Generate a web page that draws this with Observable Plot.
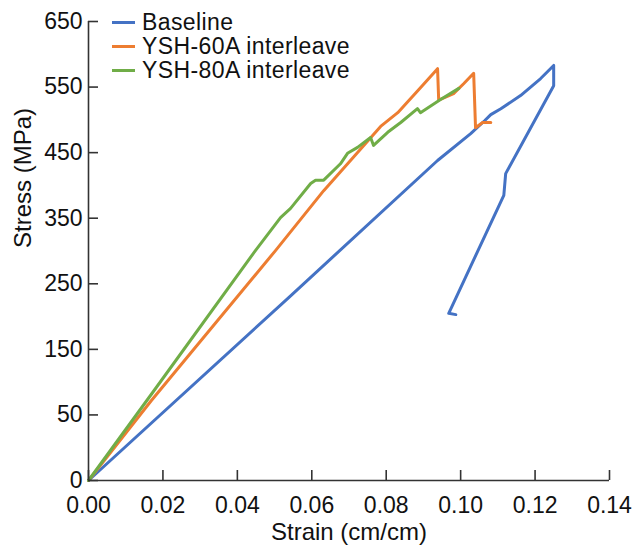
<!DOCTYPE html>
<html><head><meta charset="utf-8">
<script src="https://cdn.jsdelivr.net/npm/d3@7"></script>
<script src="https://cdn.jsdelivr.net/npm/@observablehq/plot@0.6"></script>
<style>
body{margin:0;background:#fff;}
#wrap{position:relative;width:634px;height:547px;font-family:"Liberation Sans",Arial,sans-serif;}
#legend{position:absolute;left:112px;top:10px;font-size:23px;letter-spacing:0.4px;line-height:24px;color:#111;}
.row{display:flex;align-items:center;height:24px;}
.sw{width:23px;height:3px;margin-right:7px;}
</style></head><body><div id="wrap"><div id="legend"></div></div>
<script>
const series = ["Baseline", "YSH-60A interleave", "YSH-80A interleave"];
const colors = ["#4472C4", "#ED7D31", "#70AD47"];

const baselineStrain = [0, 0.0538, 0.0938, 0.1027, 0.1065, 0.1081, 0.1108, 0.1161, 0.1215, 0.125, 0.125, 0.1121, 0.1116, 0.0968, 0.0987];
const baselineStress = [-50, 229, 438, 479, 499, 508, 517, 537, 563, 583, 552, 418, 385, 205, 203];

const ysh60Strain = [0, 0.0169, 0.0503, 0.0632, 0.0704, 0.0785, 0.0831, 0.0892, 0.0938, 0.0941, 0.0981, 0.1008, 0.1035, 0.104, 0.1059, 0.1081];
const ysh60Stress = [-50, 72, 301, 392, 438, 490, 511, 549, 578, 530, 540, 555, 571, 488, 496, 496];

const ysh80Strain = [0, 0.0167, 0.0449, 0.0516, 0.0543, 0.0597, 0.061, 0.0632, 0.0677, 0.0696, 0.0723, 0.0758, 0.0766, 0.0804, 0.0839, 0.0884, 0.0892, 0.0946, 0.0995];
const ysh80Stress = [-50, 80, 301, 351, 365, 403, 408, 408, 433, 449, 458, 473, 461, 481, 496, 517, 511, 531, 548];

const xTicks = [0, 0.02, 0.04, 0.06, 0.08, 0.10, 0.12, 0.14];
const yTicks = [-50, 50, 150, 250, 350, 450, 550, 650];
const yTickLabels = ["0", "50", "150", "250", "350", "450", "550", "650"];

const strains = [baselineStrain, ysh60Strain, ysh80Strain];
const stresses = [baselineStress, ysh60Stress, ysh80Stress];
const data = series.flatMap((s, k) => strains[k].map((x, i) => ({series: s, strain: x, stress: stresses[k][i]})));

const W = 634, H = 547, ML = 88, MR = 25, MT = 21, MB = 67, TICK = 10;

const chart = Plot.plot({
  width: W, height: H,
  marginLeft: ML, marginRight: MR, marginTop: MT, marginBottom: MB,
  style: {fontFamily: "'Liberation Sans', Arial, sans-serif", fontSize: "23px", color: "#111", background: "#fff"},
  x: {domain: [0, 0.14]},
  y: {domain: [-50, 650]},
  color: {domain: series, range: colors},
  marks: [
    Plot.line(data, {x: "strain", y: "stress", z: "series", stroke: "series", strokeWidth: 3, strokeLinejoin: "round", strokeLinecap: "round"}),
    Plot.axisX({ticks: xTicks, tickSize: TICK, dy: -TICK, tickFormat: () => "", label: null, stroke: "#333", strokeWidth: 1.6}),
    Plot.tickY(yTicks, {y: d => d, stroke: "#333", strokeWidth: 1.6, insetRight: W - ML - MR - TICK}),
    Plot.ruleY([-50], {stroke: "#333", strokeWidth: 1.6}),
    Plot.ruleX([0], {stroke: "#333", strokeWidth: 1.6}),
    Plot.axisX({ticks: xTicks, tickSize: 0, tickPadding: 16, tickFormat: d => d.toFixed(2), label: null, fill: "#111", fontSize: 23}),
    Plot.axisY({ticks: yTicks, tickSize: 0, tickPadding: 6, tickFormat: d => yTickLabels[yTicks.indexOf(d)], label: null, fill: "#111", fontSize: 23}),
    Plot.text(["Strain (cm/cm)"], {frameAnchor: "bottom", dy: 59, fontSize: 24, fill: "#111"}),
    Plot.text(["Stress (MPa)"], {frameAnchor: "left", dx: -65, dy: -3, rotate: -90, fontSize: 24, fill: "#111"})
  ]
});
document.getElementById("wrap").prepend(chart);

const legend = document.getElementById("legend");
series.forEach((s, k) => {
  const row = document.createElement("div");
  row.className = "row";
  const sw = document.createElement("span");
  sw.className = "sw";
  sw.style.background = colors[k];
  const t = document.createElement("span");
  t.textContent = s;
  row.append(sw, t);
  legend.append(row);
});
</script>
</body></html>
